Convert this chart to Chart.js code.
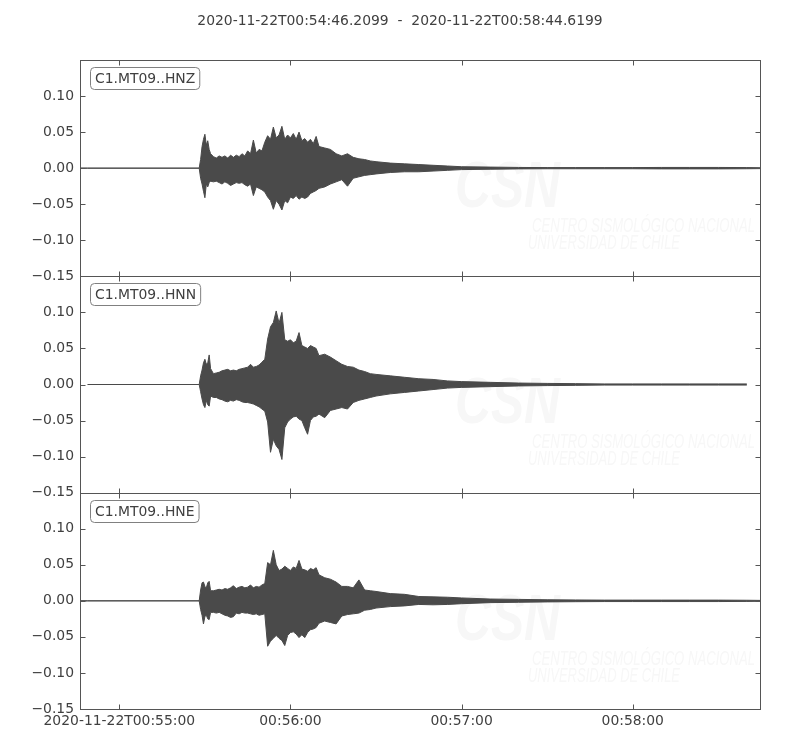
<!DOCTYPE html>
<html>
<head>
<meta charset="utf-8">
<script src="https://cdn.jsdelivr.net/npm/chart.js@4/dist/chart.umd.min.js"></script>
<style>
  body { margin: 0; background: #fff; }
  canvas { display: block; }
</style>
</head>
<body>
<canvas id="seismo" width="800" height="750"></canvas>
<script>
// seconds after 2020-11-22T00:55:00
const seconds = [
  -13.79, -11.1, 28, 28.5, 29, 29.5, 30, 30.5, 31, 31.5, 32,
  33, 34, 35, 36, 37, 38, 39, 40, 41, 42,
  43, 44, 45, 46, 47, 48, 49, 50, 51, 52,
  53, 54, 55, 56, 57, 58, 59, 60, 61, 62,
  63, 64, 65, 66, 67, 68, 69, 70, 72, 74,
  76, 78, 80, 82, 84, 86, 88, 90, 95, 100,
  105, 110, 115, 120, 130, 140, 150, 160, 170, 180,
  190, 200, 210, 220, 224.62
];

// envelope (max / min) of each trace
const hnzUpper = [
  0, 0, 0, 0.012, 0.030, 0.040, 0.047, 0.032, 0.038, 0.026, 0.020,
  0.016, 0.014, 0.017, 0.015, 0.017, 0.014, 0.018, 0.015, 0.018, 0.016,
  0.020, 0.017, 0.024, 0.020, 0.039, 0.021, 0.026, 0.024, 0.036, 0.045,
  0.040, 0.057, 0.042, 0.046, 0.058, 0.040, 0.046, 0.042, 0.048, 0.040,
  0.050, 0.038, 0.041, 0.036, 0.040, 0.034, 0.044, 0.030, 0.028, 0.026,
  0.020, 0.017, 0.020, 0.015, 0.013, 0.012, 0.010, 0.009, 0.007, 0.006,
  0.005, 0.004, 0.003, 0.002, 0.0015, 0.001, 0.0008, 0.0008, 0.0008, 0.0008,
  0.001, 0.001, 0.001, 0.0008, 0.0006
];
const hnzLower = [
  0, 0, 0, -0.014, -0.022, -0.032, -0.041, -0.022, -0.026, -0.020, -0.018,
  -0.019, -0.018, -0.020, -0.022, -0.019, -0.021, -0.024, -0.022, -0.020, -0.021,
  -0.020, -0.023, -0.025, -0.022, -0.038, -0.026, -0.028, -0.030, -0.033, -0.040,
  -0.045, -0.057, -0.045, -0.050, -0.058, -0.045, -0.048, -0.040, -0.042, -0.038,
  -0.043, -0.040, -0.042, -0.040, -0.035, -0.033, -0.031, -0.028, -0.026, -0.022,
  -0.019, -0.016, -0.025, -0.014, -0.012, -0.010, -0.009, -0.008, -0.006, -0.005,
  -0.005, -0.004, -0.003, -0.002, -0.0015, -0.001, -0.0008, -0.0008, -0.0008, -0.0008,
  -0.001, -0.001, -0.001, -0.0008, -0.0006
];
const hnnUpper = [
  null, 0, 0, 0.012, 0.020, 0.030, 0.035, 0.028, 0.030, 0.041, 0.022,
  0.015, 0.016, 0.017, 0.019, 0.020, 0.021, 0.019, 0.020, 0.019, 0.021,
  0.022, 0.023, 0.024, 0.028, 0.024, 0.025, 0.027, 0.031, 0.035, 0.063,
  0.080, 0.086, 0.102, 0.085, 0.100, 0.062, 0.060, 0.062, 0.058, 0.060,
  0.072, 0.054, 0.052, 0.050, 0.054, 0.052, 0.050, 0.040, 0.042, 0.038,
  0.033, 0.028, 0.025, 0.024, 0.020, 0.018, 0.015, 0.014, 0.012, 0.010,
  0.008, 0.007, 0.005, 0.004, 0.003, 0.002, 0.0015, 0.0012, 0.0008, 0.0008,
  0.0008, 0.0008, 0.0008, 0.0008, null
];
const hnnLower = [
  null, 0, 0, -0.010, -0.020, -0.028, -0.032, -0.022, -0.028, -0.030, -0.016,
  -0.018, -0.018, -0.020, -0.021, -0.023, -0.024, -0.022, -0.023, -0.021, -0.022,
  -0.024, -0.025, -0.025, -0.026, -0.027, -0.029, -0.031, -0.034, -0.037, -0.052,
  -0.094, -0.076, -0.085, -0.090, -0.104, -0.060, -0.052, -0.048, -0.045, -0.044,
  -0.048, -0.050, -0.060, -0.069, -0.050, -0.045, -0.044, -0.041, -0.046, -0.036,
  -0.034, -0.032, -0.034, -0.025, -0.022, -0.020, -0.018, -0.016, -0.013, -0.011,
  -0.009, -0.007, -0.005, -0.004, -0.003, -0.002, -0.0015, -0.0012, -0.0008, -0.0008,
  -0.0008, -0.0008, -0.0008, -0.0008, null
];
const hneUpper = [
  0, 0, 0, 0.015, 0.025, 0.026, 0.020, 0.018, 0.025, 0.027, 0.014,
  0.014, 0.015, 0.016, 0.015, 0.017, 0.016, 0.018, 0.021, 0.017, 0.019,
  0.020, 0.018, 0.019, 0.022, 0.018, 0.020, 0.019, 0.022, 0.024, 0.053,
  0.050, 0.070, 0.050, 0.042, 0.044, 0.048, 0.045, 0.042, 0.047, 0.045,
  0.056, 0.044, 0.043, 0.041, 0.045, 0.043, 0.046, 0.036, 0.032, 0.030,
  0.026, 0.020, 0.020, 0.018, 0.029, 0.015, 0.014, 0.013, 0.010, 0.009,
  0.006, 0.0055, 0.005, 0.004, 0.0025, 0.002, 0.0015, 0.0012, 0.001, 0.001,
  0.001, 0.001, 0.001, 0.0008, 0.0006
];
const hneLower = [
  0, 0, 0, -0.012, -0.020, -0.032, -0.022, -0.020, -0.025, -0.026, -0.016,
  -0.016, -0.017, -0.016, -0.018, -0.020, -0.021, -0.023, -0.022, -0.017, -0.018,
  -0.016, -0.017, -0.017, -0.018, -0.019, -0.018, -0.020, -0.019, -0.018, -0.063,
  -0.056, -0.052, -0.048, -0.052, -0.055, -0.062, -0.048, -0.044, -0.043, -0.046,
  -0.051, -0.047, -0.051, -0.044, -0.040, -0.039, -0.037, -0.031, -0.028, -0.030,
  -0.032, -0.021, -0.019, -0.018, -0.017, -0.013, -0.012, -0.010, -0.008, -0.007,
  -0.005, -0.0055, -0.005, -0.004, -0.0025, -0.002, -0.0015, -0.0012, -0.001, -0.001,
  -0.001, -0.001, -0.001, -0.0008, -0.0006
];

const channels = ['C1.MT09..HNZ', 'C1.MT09..HNN', 'C1.MT09..HNE'];
const uppers = [hnzUpper, hnnUpper, hneUpper];
const lowers = [hnzLower, hnnLower, hneLower];

const xTickSeconds = [0, 60, 120, 180];
const xTickLabels = ['2020-11-22T00:55:00', '00:56:00', '00:57:00', '00:58:00'];
const yTicks = [-0.15, -0.10, -0.05, 0.00, 0.05, 0.10];
const titleText = '2020-11-22T00:54:46.2099  -  2020-11-22T00:58:44.6199';
const startSec = -13.7901;
const endSec = 224.6199;

const traceColor = '#4a4a4a';
const textColor = '#404040';
const frameColor = '#555555';
const fontFamily = '"DejaVu Sans", sans-serif';

const datasets = [];
channels.forEach((name, i) => {
  const pts = arr => seconds.map((s, k) => ({ x: s, y: arr[k] }));
  datasets.push({
    label: name + ' max', data: pts(uppers[i]), yAxisID: 'y' + i,
    borderColor: traceColor, backgroundColor: traceColor, borderWidth: 1,
    pointRadius: 0, fill: '+1', tension: 0
  });
  datasets.push({
    label: name + ' min', data: pts(lowers[i]), yAxisID: 'y' + i,
    borderColor: traceColor, backgroundColor: traceColor, borderWidth: 1,
    pointRadius: 0, fill: false, tension: 0
  });
});

const yScale = (i) => ({
  type: 'linear',
  position: 'left',
  stack: 'traces',
  stackWeight: 1,
  weight: 3 - i,
  min: -0.15,
  max: 0.15,
  grid: { display: false, drawTicks: false },
  border: { display: false },
  afterBuildTicks: s => { s.ticks = yTicks.map(v => ({ value: v })); },
  afterFit: s => { s.width = 80; },
  ticks: {
    color: textColor,
    padding: 6,
    font: { family: fontFamily, size: 13.9 },
    callback: v => (v < -1e-9 ? '\u2212' : '') + Math.abs(v).toFixed(2)
  }
});

// title, frames, inward ticks, channel labels and the faint watermark
const panelDecor = {
  id: 'panelDecor',
  beforeDatasetsDraw(chart) {
    const { ctx, scales } = chart;
    ctx.save();
    ctx.fillStyle = '#f7f7f7';
    channels.forEach((name, i) => {
      const top = scales['y' + i].top;
      ctx.font = 'italic bold 64px "Liberation Sans", sans-serif';
      ctx.fillText('CSN', 455, top + 147, 105);
      ctx.font = 'italic 21px "Liberation Sans Narrow", "Liberation Sans", sans-serif';
      ctx.fillText('CENTRO SISMOL\u00d3GICO NACIONAL', 532, top + 172, 223);
      ctx.fillText('UNIVERSIDAD DE CHILE', 528, top + 189, 152);
    });
    ctx.restore();
  },
  afterDatasetsDraw(chart) {
    const { ctx, chartArea: a, scales } = chart;
    const left = Math.round(a.left) + 0.5;
    const right = Math.round(a.right) + 0.5;
    ctx.save();
    ctx.font = '13.9px ' + fontFamily;
    ctx.fillStyle = textColor;
    ctx.textAlign = 'center';
    ctx.textBaseline = 'middle';
    ctx.fillText(titleText, chart.width / 2, 21);
    ctx.textAlign = 'left';

    ctx.strokeStyle = frameColor;
    ctx.lineWidth = 1;
    channels.forEach((name, i) => {
      const ys = scales['y' + i];
      const top = Math.round(ys.top) + 0.5;
      const bottom = Math.round(ys.bottom) + 0.5;
      ctx.strokeRect(left, top, right - left, bottom - top);
      ctx.beginPath();
      yTicks.forEach(v => {
        const py = Math.round(ys.getPixelForValue(v)) + 0.5;
        ctx.moveTo(left, py); ctx.lineTo(left + 5, py);
        ctx.moveTo(right, py); ctx.lineTo(right - 5, py);
      });
      xTickSeconds.forEach(s => {
        const px = Math.round(scales.x.getPixelForValue(s)) + 0.5;
        ctx.moveTo(px, top); ctx.lineTo(px, top + 5);
        ctx.moveTo(px, bottom); ctx.lineTo(px, bottom - 5);
      });
      ctx.stroke();

      // channel label box
      const w = ctx.measureText(name).width;
      const bx = left + 10, by = top + 7, bw = w + 9, bh = 22;
      ctx.beginPath();
      ctx.roundRect(bx, by, bw, bh, 4);
      ctx.fillStyle = '#ffffff';
      ctx.fill();
      ctx.strokeStyle = '#808080';
      ctx.stroke();
      ctx.strokeStyle = frameColor;
      ctx.fillStyle = textColor;
      ctx.fillText(name, bx + 4.5, by + bh / 2 + 0.5);
    });
    ctx.restore();
  }
};

new Chart(document.getElementById('seismo'), {
  type: 'line',
  data: { datasets },
  options: {
    responsive: false,
    animation: false,
    devicePixelRatio: 1,
    events: [],
    layout: { padding: { left: 0, right: 40, top: 60, bottom: 0 } },
    plugins: {
      legend: { display: false },
      tooltip: { enabled: false },
      title: { display: false }
    },
    scales: {
      x: {
        type: 'linear',
        position: 'bottom',
        min: startSec,
        max: endSec,
        grid: { display: false, drawTicks: false },
        border: { display: false },
        afterBuildTicks: s => { s.ticks = xTickSeconds.map(v => ({ value: v })); },
        afterFit: s => { s.height = 41; },
        ticks: {
          color: textColor,
          padding: 4,
          maxRotation: 0,
          autoSkip: false,
          font: { family: fontFamily, size: 13.9 },
          callback: (v, idx) => xTickLabels[idx]
        }
      },
      y0: yScale(0),
      y1: yScale(1),
      y2: yScale(2)
    }
  },
  plugins: [panelDecor]
});
</script>
</body>
</html>
